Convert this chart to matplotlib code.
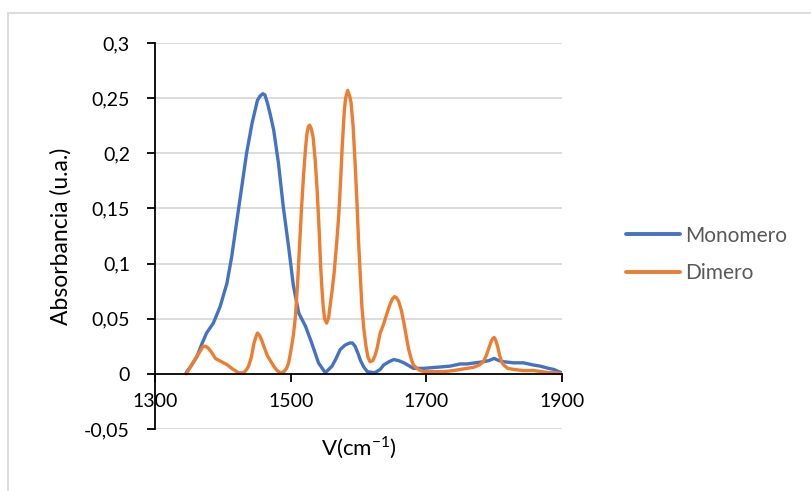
import matplotlib
matplotlib.use("Agg")
import matplotlib.pyplot as plt
from matplotlib.patches import Rectangle

# Monomero (wavenumber cm-1, absorbance)
mono_x = [1346, 1354, 1362, 1369, 1376, 1386, 1396, 1406, 1413, 1420, 1428, 1435, 1443, 1451, 1455,
          1459, 1462, 1466, 1470, 1475, 1482, 1489, 1497, 1504, 1512, 1522, 1531, 1541, 1551, 1561,
          1567, 1573, 1580, 1587, 1591, 1595, 1599, 1603, 1608, 1613, 1624, 1632, 1637, 1645, 1652,
          1659, 1667, 1681, 1696, 1716, 1735, 1750, 1760, 1772, 1784, 1792, 1800, 1807, 1814, 1829,
          1843, 1858, 1868, 1880, 1888, 1895, 1900]
mono_y = [0.001, 0.008, 0.016, 0.027, 0.037, 0.046, 0.061, 0.082, 0.106, 0.136, 0.170, 0.200, 0.227, 0.248, 0.252,
          0.254, 0.253, 0.245, 0.235, 0.221, 0.191, 0.152, 0.115, 0.080, 0.055, 0.043, 0.028, 0.010, 0.001, 0.007,
          0.014, 0.022, 0.026, 0.028, 0.028, 0.025, 0.019, 0.012, 0.006, 0.002, 0.001, 0.004, 0.008, 0.011, 0.013,
          0.012, 0.010, 0.005, 0.005, 0.006, 0.007, 0.009, 0.009, 0.010, 0.011, 0.012, 0.014, 0.012, 0.011, 0.010,
          0.010, 0.008, 0.007, 0.005, 0.004, 0.002, 0.001]

# Dimero
dim_x = [1346, 1353, 1359, 1365, 1371, 1375, 1379, 1384, 1389, 1395, 1401, 1407, 1413, 1418, 1423, 1430,
         1434, 1438, 1442, 1446, 1449, 1451, 1454, 1457, 1461, 1466, 1470, 1475, 1480, 1485, 1490, 1494,
         1497, 1500, 1504, 1507, 1510, 1513, 1516, 1519, 1522, 1524, 1526, 1528, 1530, 1533, 1536, 1539,
         1542, 1544, 1546, 1548, 1550, 1553, 1556, 1558, 1561, 1564, 1568, 1571, 1574, 1576, 1579, 1581,
         1584, 1587, 1589, 1592, 1595, 1598, 1600, 1603, 1605, 1608, 1611, 1614, 1617, 1621, 1624, 1627,
         1632, 1637, 1642, 1647, 1650, 1653, 1656, 1659, 1663, 1667, 1671, 1674, 1678, 1681, 1686, 1691,
         1698, 1706, 1716, 1726, 1740, 1750, 1760, 1770, 1778, 1784, 1788, 1792, 1796, 1798, 1800, 1802,
         1805, 1808, 1811, 1814, 1820, 1829, 1843, 1858, 1870, 1883, 1892, 1900]
dim_y = [0.000, 0.007, 0.013, 0.019, 0.025, 0.025, 0.023, 0.019, 0.014, 0.012, 0.010, 0.008, 0.005, 0.003, 0.001, 0.001,
         0.003, 0.007, 0.015, 0.028, 0.034, 0.037, 0.035, 0.031, 0.024, 0.016, 0.012, 0.007, 0.003, 0.001, 0.002, 0.005,
         0.010, 0.020, 0.035, 0.052, 0.080, 0.115, 0.150, 0.180, 0.205, 0.218, 0.224, 0.2255, 0.223, 0.215, 0.195, 0.167,
         0.130, 0.100, 0.078, 0.061, 0.050, 0.046, 0.051, 0.061, 0.075, 0.091, 0.120, 0.145, 0.180, 0.206, 0.238, 0.250,
         0.257, 0.252, 0.246, 0.225, 0.191, 0.152, 0.121, 0.085, 0.061, 0.040, 0.025, 0.015, 0.011, 0.012, 0.016, 0.022,
         0.037, 0.045, 0.055, 0.064, 0.068, 0.070, 0.069, 0.066, 0.058, 0.046, 0.032, 0.022, 0.013, 0.008, 0.005, 0.003,
         0.002, 0.002, 0.002, 0.002, 0.003, 0.004, 0.005, 0.006, 0.008, 0.011, 0.016, 0.023, 0.030, 0.032, 0.033, 0.031,
         0.025, 0.017, 0.011, 0.008, 0.005, 0.004, 0.003, 0.003, 0.002, 0.001, 0.001, 0.000]

x_ticks = [1300, 1500, 1700, 1900]
y_ticks = [-0.05, 0, 0.05, 0.1, 0.15, 0.2, 0.25, 0.3]
y_tick_labels = ["-0,05", "0", "0,05", "0,1", "0,15", "0,2", "0,25", "0,3"]

plt.rcParams['font.family'] = ['Lato', 'DejaVu Sans']

fig = plt.figure(figsize=(8.12, 4.91), dpi=100)
fig.patches.append(Rectangle((8.5/812, -0.1), 1.2, 1.1 - 13/491, transform=fig.transFigure,
                             fill=False, edgecolor='#d9d9d9', linewidth=1.3))
ax = fig.add_axes([155/812, 1 - 429/491, (562 - 155)/812, (429 - 43)/491])

ax.plot(mono_x, mono_y, color='#4472C4', lw=2.4, label='Monomero',
        solid_capstyle='round', solid_joinstyle='round')
ax.plot(dim_x, dim_y, color='#ED7D31', lw=2.4, label='Dimero',
        solid_capstyle='round', solid_joinstyle='round')

ax.set_xlim(1300, 1900)
ax.set_ylim(-0.05, 0.3)
ax.set_xticks(x_ticks)
ax.set_yticks(y_ticks)
ax.set_yticklabels(y_tick_labels)
for yv in y_ticks:
    if yv != 0:
        ax.axhline(yv, color='#d9d9d9', lw=1.3, zorder=0)

for s in ['top', 'right']:
    ax.spines[s].set_visible(False)
ax.spines['bottom'].set_position(('data', 0))
ax.spines['bottom'].set_linewidth(1.3)
ax.spines['left'].set_linewidth(1.3)
ax.tick_params(axis='y', direction='out', length=6, width=1.3, pad=12, labelsize=14, colors='black')
ax.tick_params(axis='x', direction='out', length=6, width=1.3, pad=8, labelsize=14, colors='black')

ax.set_ylabel('Absorbancia (u.a.)', fontsize=16.5)
ax.yaxis.set_label_coords((61 - 155) / 407, 0.5)
ax.yaxis.label.set_va('center')
fig.text(359/812, 1 - 448/491, r'V(cm$^{\mathregular{-1}}$)', ha='center', va='center', fontsize=16)

leg = ax.legend(loc='center left', bbox_to_anchor=(1.11, 0.452), frameon=False, fontsize=15,
                handlelength=2.6, handletextpad=0.25, labelspacing=0.85, labelcolor='#595959')
for h in leg.get_lines():
    h.set_linewidth(2.8)

fig.savefig('out.png', dpi=100)
